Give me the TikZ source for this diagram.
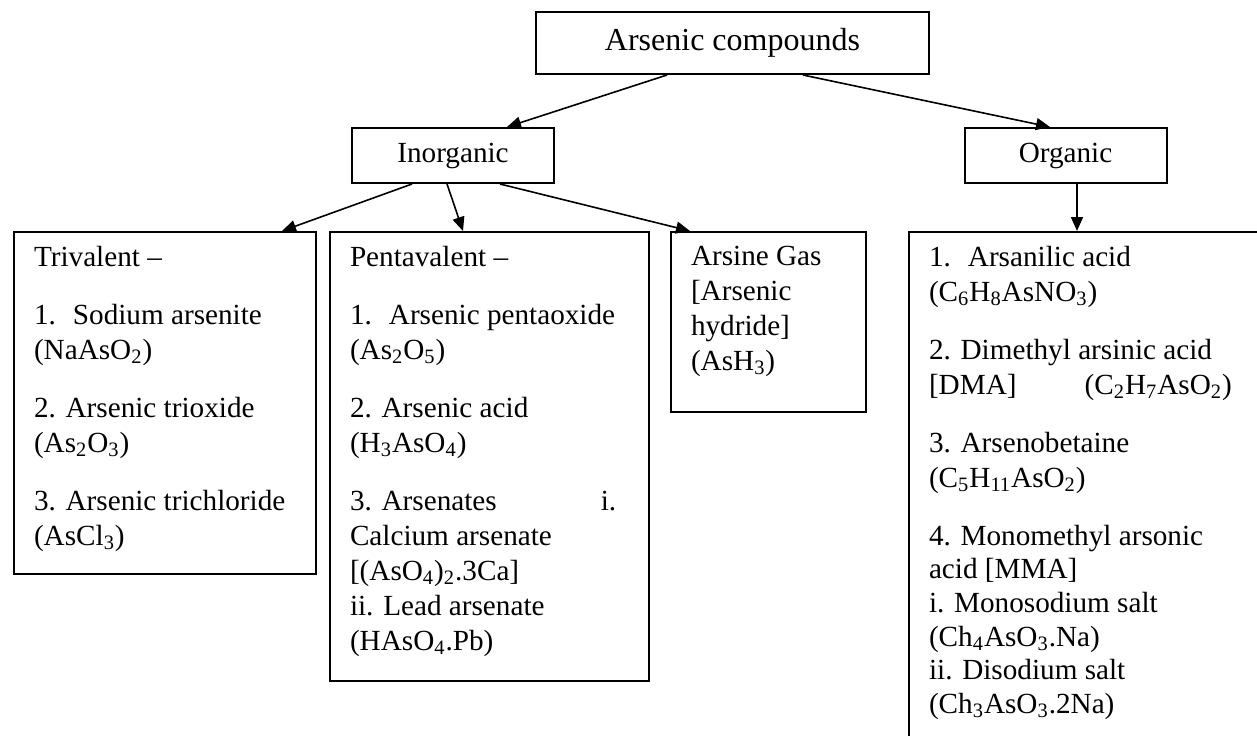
\documentclass[tikz,border=0pt]{standalone}
\usepackage{fontspec}
\setmainfont{Liberation Serif}
\usetikzlibrary{arrows.meta,positioning}

\begin{document}
\begin{tikzpicture}
			[>={Triangle[length=7pt,width=6pt]},
			classbox/.style={draw,line width=1pt,minimum width=101pt,minimum height=27.5pt,inner sep=0pt,font=\fontsize{14.6}{17.5}\selectfont},
			rootclass/.style={classbox,minimum width=196.5pt,minimum height=31pt,font=\fontsize{16}{19}\selectfont},
			listbox/.style={draw,line width=1pt,inner xsep=10pt,inner ysep=7pt,font=\fontsize{14.6}{17.5}\selectfont},
			link/.style={->,line width=0.8pt}]

			\clip (0,0) rectangle (628.5pt,-367.5pt);

			\node [rootclass](ac) at (366.25pt,-21.5pt)                {Arsenic compounds};
			\node [classbox](inorg) [below=26pt of ac, xshift=-139.75pt] {Inorganic};
			\node [classbox](org) [below=26pt of ac, xshift=166.5pt]     {Organic};

			\node [listbox](tri) [below=23.5pt of inorg, anchor=north west, xshift=-220pt]
				{\parbox[c][157pt][t]{131pt}{\raggedright
				Trivalent --\\[11.5pt]
				1.~ Sodium arsenite\\
				(NaAsO\textsubscript{2})\\[11.5pt]
				2. Arsenic trioxide\\
				(As\textsubscript{2}O\textsubscript{3})\\[11.5pt]
				3. Arsenic trichloride\\
				(AsCl\textsubscript{3})}};

			\node [listbox](penta) [below=23.5pt of inorg, anchor=north west, xshift=-62pt]
				{\parbox[c][210.5pt][t]{139.5pt}{\raggedright
				Pentavalent --\\[11.5pt]
				1.~ Arsenic pentaoxide\\
				(As\textsubscript{2}O\textsubscript{5})\\[11.5pt]
				2. Arsenic acid\\
				(H\textsubscript{3}AsO\textsubscript{4})\\[11.5pt]
				3. Arsenates\hspace{52pt}i.\\
				Calcium arsenate\\
				{}[(AsO\textsubscript{4})\textsubscript{2}.3Ca]\\
				ii. Lead arsenate\\
				(HAsO\textsubscript{4}.Pb)}};

			\node [listbox](arsine) [below=23.5pt of inorg, anchor=north west, xshift=108.5pt]
				{\parbox[c][76pt][t]{77.5pt}{\raggedright
				Arsine Gas\\
				{}[Arsenic\\
				hydride]\\
				(AsH\textsubscript{3})}};

			\node [listbox](orgl) [below=23.5pt of org, anchor=north west, xshift=-78.75pt]
				{\parbox[c][256pt][t]{180pt}{\raggedright
				1.~ Arsanilic acid\\
				(C\textsubscript{6}H\textsubscript{8}AsNO\textsubscript{3})\\[11.5pt]
				2. Dimethyl arsinic acid\\
				{}[DMA]\hspace{34pt}(C\textsubscript{2}H\textsubscript{7}AsO\textsubscript{2})\\[11.5pt]
				3. Arsenobetaine\\
				(C\textsubscript{5}H\textsubscript{11}AsO\textsubscript{2})\\[11.5pt]
				4. Monomethyl arsonic\\[-0.7pt]
				acid [MMA]\\[-0.7pt]
				i. Monosodium salt\\[-0.7pt]
				(Ch\textsubscript{4}AsO\textsubscript{3}.Na)\\[-0.7pt]
				ii. Disodium salt\\[-0.7pt]
				(Ch\textsubscript{3}AsO\textsubscript{3}.2Na)}};

			\draw [link] ([xshift=-32.75pt]ac.south) -- ([xshift=27pt]inorg.north);
			\draw [link] ([xshift=35.25pt]ac.south)  -- ([xshift=-7.75pt]org.north);
			\draw [link] ([xshift=-20.5pt]inorg.south) -- ([xshift=-17.5pt]tri.north east);
			\draw [link] ([xshift=-3pt]inorg.south)    -- ([xshift=67pt]penta.north west);
			\draw [link] ([xshift=23.5pt]inorg.south)  -- ([xshift=10pt]arsine.north west);
			\draw [link] ([xshift=5.75pt]org.south)    -- ([xshift=84.5pt]orgl.north west);

\end{tikzpicture}
\end{document}
